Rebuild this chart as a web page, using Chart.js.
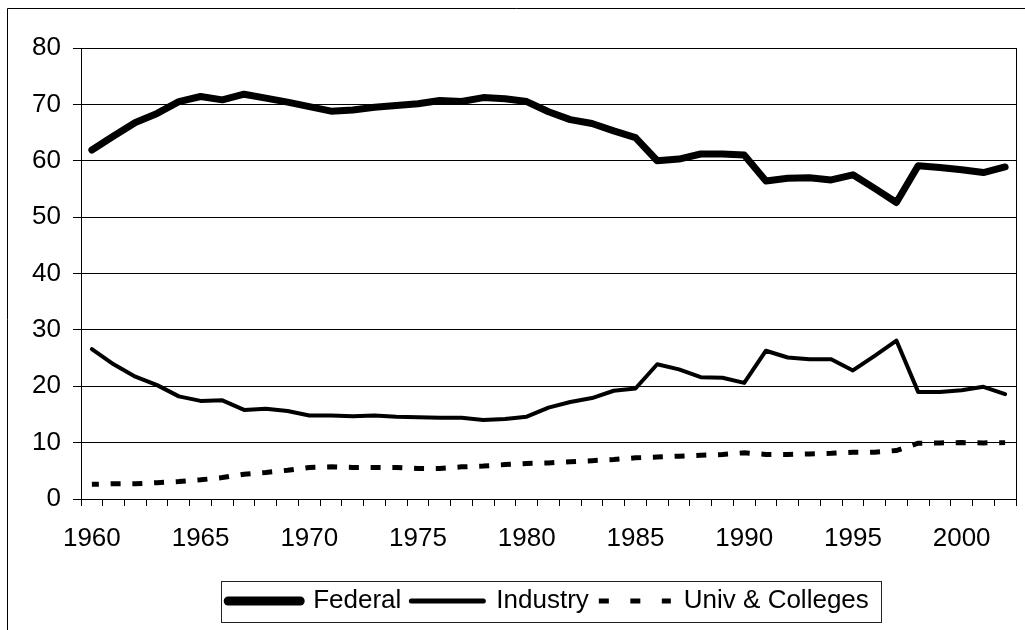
<!DOCTYPE html>
<html lang="en">
<head>
<meta charset="UTF-8">
<title>R&amp;D funding by source, 1960-2002</title>
<script src="https://cdn.jsdelivr.net/npm/chart.js@4.4.1/dist/chart.umd.min.js"></script>
<style>
  html, body { margin: 0; padding: 0; background: #fff; }
  #wrap { position: relative; width: 1025px; height: 630px; }
</style>
</head>
<body>
<div id="wrap"><canvas id="fundingChart"></canvas></div>
<script>
// Category axis: one entry per year
const years = [
  '1960', '1961', '1962', '1963', '1964', '1965', '1966', '1967', '1968', '1969',
  '1970', '1971', '1972', '1973', '1974', '1975', '1976', '1977', '1978', '1979',
  '1980', '1981', '1982', '1983', '1984', '1985', '1986', '1987', '1988', '1989',
  '1990', '1991', '1992', '1993', '1994', '1995', '1996', '1997', '1998', '1999',
  '2000', '2001', '2002'
];

// Only these years get a label under the axis
const tickLabels = ['1960', '1965', '1970', '1975', '1980', '1985', '1990', '1995', '2000'];

// Share of funding (%)
const federal = [
  61.9, 64.4, 66.8, 68.4, 70.5, 71.4, 70.8, 71.8, 71.1, 70.4,
  69.6, 68.8, 69.0, 69.5, 69.8, 70.1, 70.7, 70.5, 71.2, 71.0,
  70.5, 68.7, 67.3, 66.6, 65.3, 64.1, 60.0, 60.3, 61.2, 61.2,
  61.0, 56.4, 56.9, 57.0, 56.6, 57.5, 55.1, 52.6, 59.1, 58.8,
  58.4, 57.9, 58.9
];
const industry = [
  26.6, 23.9, 21.7, 20.2, 18.2, 17.4, 17.5, 15.8, 16.0, 15.6,
  14.8, 14.8, 14.7, 14.8, 14.6, 14.5, 14.4, 14.4, 14.0, 14.2,
  14.6, 16.2, 17.2, 17.9, 19.2, 19.6, 23.9, 23.0, 21.6, 21.5,
  20.6, 26.3, 25.1, 24.8, 24.8, 22.8, 25.4, 28.1, 19.0, 19.0,
  19.3, 19.9, 18.6
];
const univColleges = [
  2.6, 2.7, 2.7, 2.9, 3.1, 3.4, 3.8, 4.4, 4.7, 5.1,
  5.6, 5.7, 5.6, 5.6, 5.6, 5.4, 5.4, 5.7, 5.85, 6.1,
  6.3, 6.4, 6.6, 6.8, 7.0, 7.3, 7.45, 7.6, 7.75, 7.9,
  8.2, 7.9, 7.9, 8.0, 8.1, 8.3, 8.3, 8.6, 9.9, 9.95,
  10.0, 9.95, 10.0
];

const FONT = { family: "'Liberation Sans', Arial, sans-serif", size: 26 };

// Outer frame, right edge of the plot area and the box round the legend
const framePlugin = {
  id: 'frame',
  beforeDraw(chart) {
    const ctx = chart.ctx;
    ctx.save();
    ctx.fillStyle = '#fff';
    ctx.fillRect(0, 0, chart.width, chart.height);
    ctx.strokeStyle = '#000';
    ctx.lineWidth = 1;
    ctx.beginPath();
    ctx.moveTo(7.5, chart.height);
    ctx.lineTo(7.5, 8.5);
    ctx.lineTo(chart.width, 8.5);
    ctx.stroke();
    ctx.restore();
  },
  afterDraw(chart) {
    const { ctx, chartArea, legend } = chart;
    ctx.save();
    ctx.strokeStyle = '#000';
    ctx.lineWidth = 1;
    const rx = Math.round(chartArea.right) + 0.5;
    ctx.beginPath();
    ctx.moveTo(rx, chartArea.top);
    ctx.lineTo(rx, chartArea.bottom);
    ctx.stroke();

    const boxes = legend && legend.legendHitBoxes;
    if (boxes && boxes.length) {
      const first = boxes[0];
      const last = boxes[boxes.length - 1];
      const x0 = Math.round(first.left) - 6.5;
      const x1 = Math.round(last.left + last.width) + 12.5;
      const y0 = Math.round(first.top) - 6.5;
      const y1 = Math.round(first.top + first.height) + 8.5;
      ctx.strokeStyle = '#222';
      ctx.strokeRect(x0, y0, x1 - x0, y1 - y0);
    }
    ctx.restore();
  }
};

new Chart(document.getElementById('fundingChart'), {
  type: 'line',
  data: {
    labels: years,
    datasets: [
      {
        label: 'Federal',
        data: federal,
        borderColor: '#000',
        backgroundColor: '#000',
        borderWidth: 7,
        borderCapStyle: 'round',
        borderJoinStyle: 'round',
        pointRadius: 0,
        tension: 0,
        legendWidth: 9
      },
      {
        label: 'Industry',
        data: industry,
        borderColor: '#000',
        backgroundColor: '#000',
        borderWidth: 4,
        borderCapStyle: 'round',
        borderJoinStyle: 'round',
        pointRadius: 0,
        tension: 0,
        legendWidth: 5
      },
      {
        label: 'Univ & Colleges',
        data: univColleges,
        borderColor: '#000',
        backgroundColor: '#000',
        borderWidth: 5,
        borderDash: [10, 11.74],
        borderDashOffset: 3,
        borderCapStyle: 'butt',
        pointRadius: 0,
        tension: 0,
        legendWidth: 5,
        legendDash: [10, 21.5]
      }
    ]
  },
  options: {
    responsive: true,
    maintainAspectRatio: false,
    animation: false,
    devicePixelRatio: 1,
    layout: { padding: { top: 48, right: 9, bottom: 6, left: 0 } },
    plugins: {
      tooltip: { enabled: false },
      legend: {
        position: 'bottom',
        fullSize: false,
        labels: {
          usePointStyle: true,
          pointStyle: 'line',
          pointStyleWidth: 72,
          padding: 10,
          color: '#000',
          font: FONT,
          // point-style items lose the dataset's dash, so put line styles back
          generateLabels(chart) {
            const items = Chart.defaults.plugins.legend.labels.generateLabels(chart);
            items.forEach(item => {
              const ds = chart.data.datasets[item.datasetIndex];
              item.lineWidth = ds.legendWidth || ds.borderWidth;
              item.lineDash = ds.legendDash || [];
              item.lineDashOffset = 0;
              item.lineCap = ds.borderCapStyle;
              item.strokeStyle = ds.borderColor;
            });
            return items;
          }
        }
      }
    },
    scales: {
      x: {
        offset: true,
        grid: {
          offset: true,
          drawOnChartArea: false,
          drawTicks: true,
          tickLength: 7,
          color: '#000'
        },
        border: { color: '#000' },
        ticks: {
          autoSkip: false,
          maxRotation: 0,
          padding: 17,
          color: '#000',
          font: FONT,
          callback(value, index) {
            return tickLabels.includes(years[index]) ? years[index] : '';
          }
        },
        afterFit(scale) { scale.height = 79; }
      },
      y: {
        min: 0,
        max: 80,
        ticks: { stepSize: 10, padding: 12, color: '#000', font: FONT },
        grid: { color: '#000', tickLength: 8 },
        border: { color: '#000' },
        afterFit(scale) { scale.width = 81; }
      }
    }
  },
  plugins: [framePlugin]
});
</script>
</body>
</html>
